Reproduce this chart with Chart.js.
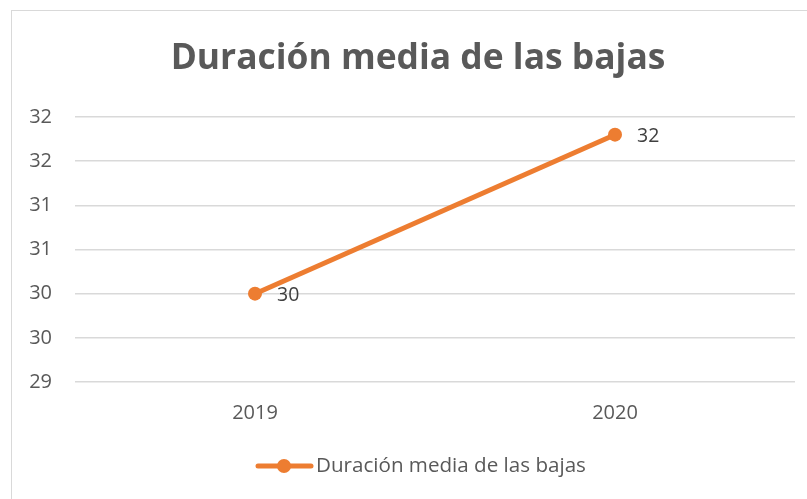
<!DOCTYPE html>
<html>
<head>
<meta charset="utf-8">
<script src="https://cdn.jsdelivr.net/npm/chart.js@4.4.1/dist/chart.umd.min.js"></script>
<style>
  html, body { margin: 0; padding: 0; background: #fff; overflow: hidden; }
  #wrap { position: relative; width: 807px; height: 499px; }
</style>
</head>
<body>
<div id="wrap"><canvas id="chart"></canvas></div>
<script>
const anios = ['2019', '2020'];
const duracionMedia = [30, 31.8];
const serieNombre = 'Duración media de las bajas';
const ejeY = { min: 29, max: 32, paso: 0.5 };

const naranja = '#ED7D31';
const gris = '#595959';
const fuente = '"Open Sans", "Noto Sans", sans-serif';

// marco gris claro y título centrado sobre el marco completo
const marco = {
  id: 'marco',
  beforeDraw(chart) {
    const ctx = chart.ctx;
    ctx.save();
    ctx.strokeStyle = '#d9d9d9';
    ctx.lineWidth = 1;
    ctx.strokeRect(11.5, 10.5, 1000, 1000);
    ctx.font = 'bold 35.4px ' + fuente;
    ctx.fillStyle = gris;
    ctx.textAlign = 'center';
    ctx.textBaseline = 'middle';
    ctx.fillText(serieNombre, 418, 58.5);
    ctx.restore();
  }
};

// etiquetas de valor a la derecha de cada punto
const etiquetas = {
  id: 'etiquetas',
  afterDatasetsDraw(chart) {
    const ctx = chart.ctx;
    const ds = chart.data.datasets[0];
    ctx.save();
    ctx.font = '19.5px ' + fuente;
    ctx.fillStyle = '#404040';
    ctx.textAlign = 'left';
    ctx.textBaseline = 'middle';
    chart.getDatasetMeta(0).data.forEach((p, i) => {
      ctx.fillText(Math.round(ds.data[i]).toString(), p.x + 22, p.y + 2);
    });
    ctx.restore();
  }
};

// leyenda inferior: línea con marcador y nombre de la serie
const leyenda = {
  id: 'leyenda',
  afterDraw(chart) {
    const ctx = chart.ctx;
    const ds = chart.data.datasets[0];
    const y = 466;
    ctx.save();
    ctx.strokeStyle = ds.borderColor;
    ctx.lineWidth = 5;
    ctx.lineCap = 'round';
    ctx.beginPath();
    ctx.moveTo(258, y);
    ctx.lineTo(311, y);
    ctx.stroke();
    ctx.fillStyle = ds.borderColor;
    ctx.beginPath();
    ctx.arc(284, y, 7, 0, Math.PI * 2);
    ctx.fill();
    ctx.font = '20.6px ' + fuente;
    ctx.fillStyle = gris;
    ctx.textAlign = 'left';
    ctx.textBaseline = 'middle';
    ctx.fillText(ds.label, 316, y);
    ctx.restore();
  }
};

new Chart(document.getElementById('chart'), {
  type: 'line',
  data: {
    labels: anios,
    datasets: [{
      label: serieNombre,
      data: duracionMedia,
      borderColor: naranja,
      backgroundColor: naranja,
      borderWidth: 5,
      pointRadius: 7,
      pointHoverRadius: 7,
      pointBackgroundColor: naranja,
      pointBorderWidth: 0,
      tension: 0
    }]
  },
  options: {
    responsive: true,
    maintainAspectRatio: false,
    animation: false,
    events: [],
    layout: { padding: { left: 0, right: 12, top: 117, bottom: 67 } },
    plugins: {
      legend: { display: false },
      tooltip: { enabled: false },
      title: { display: false }
    },
    scales: {
      x: {
        offset: true,
        grid: { display: false, drawTicks: false },
        border: { display: false },
        ticks: { color: gris, font: { family: fuente, size: 20 }, padding: 19 },
        afterFit(scale) { scale.height = 50; }
      },
      y: {
        min: ejeY.min,
        max: ejeY.max,
        grid: { color: '#d9d9d9', lineWidth: 1.5, drawTicks: false },
        border: { display: false },
        ticks: {
          stepSize: ejeY.paso,
          color: gris,
          font: { family: fuente, size: 20 },
          padding: 23,
          callback: v => Math.round(v)
        },
        afterFit(scale) { scale.width = 75; }
      }
    }
  },
  plugins: [marco, etiquetas, leyenda]
});
</script>
</body>
</html>
